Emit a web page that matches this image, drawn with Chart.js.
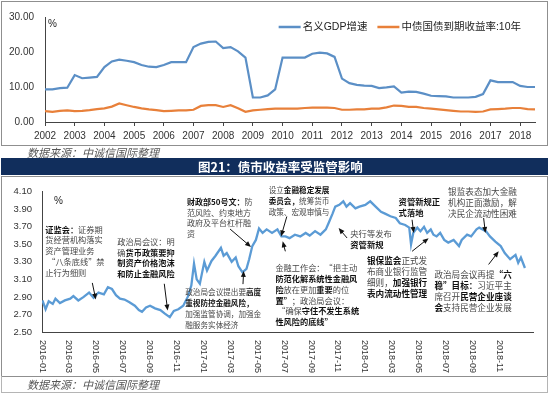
<!DOCTYPE html>
<html>
<head>
<meta charset="utf-8">
<script src="https://cdn.jsdelivr.net/npm/chart.js@4.4.0/dist/chart.umd.min.js"></script>
<style>
  body { margin: 0; width: 550px; height: 394px; position: relative; background: #fff; overflow: hidden;
         font-family: "Liberation Sans", "Noto Sans CJK SC", sans-serif; }
  .frame { position: absolute; box-sizing: border-box; border: 1px solid #8f8f8f; }
  #frame1 { left: 1px; top: 1px; width: 547px; height: 145px; }
  #frame2 { left: 1px; top: 176px; width: 547px; height: 201px; }
  #frame3 { left: 1px; top: 376px; width: 547px; height: 17px; border-top: none; border-color: #b5b5b5; }
  canvas { position: absolute; left: 0; }
  #c1 { top: 0; }
  #c2 { top: 176px; }
  .source { position: absolute; left: 27px; font-size: 11px; font-style: italic; color: #555;
            font-family: "Noto Sans CJK SC", sans-serif; line-height: 13px; }
  #src1 { top: 146px; }
  #src2 { top: 378px; }
  #title { position: absolute; left: 1px; top: 158px; width: 547px; height: 17px; background: #112e5c;
           color: #fff; font: bold 12.5px "Noto Sans CJK SC", sans-serif; line-height: 17px;
           text-align: center; box-sizing: border-box; padding-left: 12px; }
</style>
</head>
<body>
<div class="frame" id="frame1"></div>
<div class="frame" id="frame2"></div>
<div class="frame" id="frame3"></div>
<canvas id="c1" width="550" height="145"></canvas>
<div class="source" id="src1">数据来源：中诚信国际整理</div>
<div id="title">图21：债市收益率受监管影响</div>
<canvas id="c2" width="550" height="200"></canvas>
<div class="source" id="src2">数据来源：中诚信国际整理</div>
<script>
// ---- 上图：名义GDP增速 与 10年国债收益率（季度）----
const years = ['2002', '2003', '2004', '2005', '2006', '2007', '2008', '2009', '2010',
               '2011', '2012', '2013', '2014', '2015', '2016', '2017', '2018'];
const gdpGrowth = [
  9.3, 9.3, 9.7, 9.8,  13.4, 12.5, 12.7, 12.9,  15.7, 17.3, 17.8, 17.5,  17.1, 16.3, 15.8, 15.7,
  16.3, 17.1, 17.1, 17.1,  21.4, 22.4, 22.9, 23.0,  21.1, 21.4, 20.2, 18.4,  7.0, 7.0, 7.6, 9.3,
  18.4, 18.4, 18.4, 18.4,  19.5, 19.8, 19.6, 18.6,  12.4, 11.1, 10.6, 10.4,  10.3, 9.7, 9.9, 10.2,
  8.4, 8.7, 8.6, 8.1,  7.5, 7.4, 7.3, 7.0,  7.0, 7.0, 7.2, 8.0,  11.9, 11.4, 11.4, 11.4,
  10.3, 10.0, 10.0
];
const bondYield10y = [
  3.1, 2.9, 3.2, 3.3,  3.1, 3.2, 3.4, 3.7,  3.9, 4.4, 5.3, 4.8,  4.3, 3.9, 3.6, 3.4,
  3.1, 3.2, 3.3, 3.3,  3.5, 4.6, 4.8, 4.8,  4.3, 4.8, 3.9, 2.9,  3.3, 3.5, 3.7, 3.8,
  3.8, 3.8, 3.8, 4.0,  4.1, 4.1, 4.1, 4.0,  3.5, 3.5, 3.6, 3.6,  3.8, 3.8, 4.2, 4.7,
  4.6, 4.3, 4.3, 4.0,  3.8, 3.6, 3.4, 3.2,  3.0, 3.0, 2.9, 3.0,  3.6, 3.7, 3.8, 4.0,
  4.0, 3.7, 3.6
];
const yTicks1 = [0, 10, 20, 30];

// ---- 下图：10年国债收益率（%）----
const yieldDates = [
  '2016-01-02', '2016-01-09', '2016-01-16', '2016-01-25', '2016-02-01', '2016-02-11', '2016-02-22',
  '2016-03-04', '2016-03-11', '2016-03-22', '2016-04-04', '2016-04-16', '2016-04-26', '2016-05-07',
  '2016-05-19', '2016-05-28', '2016-06-07', '2016-06-16', '2016-06-25', '2016-07-05', '2016-07-16',
  '2016-07-28', '2016-08-07', '2016-08-14', '2016-08-23', '2016-09-02', '2016-09-13', '2016-09-25',
  '2016-10-05', '2016-10-16', '2016-10-25', '2016-11-05', '2016-11-16', '2016-11-26', '2016-12-04',
  '2016-12-10', '2016-12-16', '2016-12-23', '2017-01-03', '2017-01-09', '2017-01-19', '2017-01-28',
  '2017-02-10', '2017-02-16', '2017-02-23', '2017-03-04', '2017-03-13', '2017-03-19', '2017-03-28',
  '2017-04-07', '2017-04-13', '2017-04-20', '2017-04-28', '2017-05-05', '2017-05-13', '2017-05-22',
  '2017-06-04', '2017-06-16', '2017-06-25', '2017-07-04', '2017-07-13', '2017-07-25', '2017-08-07',
  '2017-08-19', '2017-08-28', '2017-09-10', '2017-09-22', '2017-10-04', '2017-10-10', '2017-10-19',
  '2017-10-25', '2017-11-04', '2017-11-13', '2017-11-20', '2017-11-28', '2017-12-10', '2017-12-19',
  '2018-01-02', '2018-01-13', '2018-01-25', '2018-02-07', '2018-02-16', '2018-02-28', '2018-03-10',
  '2018-03-19', '2018-04-01', '2018-04-10', '2018-04-14', '2018-04-19', '2018-04-28', '2018-05-05',
  '2018-05-13', '2018-05-20', '2018-05-28', '2018-06-04', '2018-06-11', '2018-06-19', '2018-06-28',
  '2018-07-07', '2018-07-19', '2018-08-01', '2018-08-07', '2018-08-19', '2018-08-28', '2018-09-10',
  '2018-09-16', '2018-10-01', '2018-10-10', '2018-10-22', '2018-11-04', '2018-11-13', '2018-11-25',
  '2018-12-07', '2018-12-13', '2018-12-19', '2018-12-28'
];
const yieldValues = [
  2.86, 2.76, 2.85, 2.82, 2.88, 2.83, 2.86,
  2.88, 2.91, 2.86, 2.90, 2.95, 2.89, 2.95,
  2.93, 3.01, 2.99, 2.92, 2.88, 2.87, 2.84,
  2.80, 2.75, 2.73, 2.78, 2.80, 2.77, 2.75,
  2.71, 2.67, 2.74, 2.76, 2.80, 2.90, 3.03,
  3.28, 3.10, 3.05, 3.30, 3.20, 3.31, 3.37,
  3.46, 3.37, 3.40, 3.30, 3.35, 3.25, 3.18,
  3.22, 3.33, 3.48, 3.55, 3.68, 3.63, 3.67,
  3.63, 3.67, 3.59, 3.59, 3.57, 3.61, 3.59,
  3.63, 3.60, 3.65, 3.61, 3.67, 3.74, 3.85,
  3.93, 3.95, 3.99, 3.93, 3.97, 3.91, 3.93,
  3.95, 3.99, 3.93, 3.87, 3.85, 3.82, 3.80,
  3.74, 3.72, 3.69, 3.50, 3.63, 3.69, 3.65,
  3.70, 3.63, 3.67, 3.61, 3.59, 3.63, 3.55,
  3.52, 3.55, 3.48, 3.55, 3.61, 3.59, 3.67,
  3.69, 3.65, 3.59, 3.53, 3.48, 3.40, 3.33,
  3.38, 3.29, 3.35, 3.23
];
const tickLabels2 = ['2016-01', '2016-03', '2016-05', '2016-07', '2016-09', '2016-11',
                     '2017-01', '2017-03', '2017-05', '2017-07', '2017-09', '2017-11',
                     '2018-01', '2018-03', '2018-05', '2018-07', '2018-09', '2018-11'];
const yTicks2 = [2.5, 2.7, 2.9, 3.1, 3.3, 3.5, 3.7, 3.9, 4.1];

// 注释：m = 距2016-01的月数，v = 收益率；*包住的是粗体
const notes = [
  { m: 0.25, v: 3.67, size: 8.2, lines: ['*证监会：*证券期', '货经营机构落实', '资产管理业务', ' “八条底线”禁', '止行为细则'] },
  { m: 5.6, v: 3.53, size: 8.2, lines: ['政治局会议：明', '确*货币政策要抑*', '*制资产价格泡沫*', '*和防止金融风险*'] },
  { m: 10.78, v: 3.986, size: 8.0, lines: ['*财政部50号文：*防', '范风险、约束地方', '政府及平台杠杆融', '资'] },
  { m: 10.65, v: 2.95, size: 7.6, lines: ['政治局会议提出要*高度*', '*重视防控金融风险，*', '加强监管协调，加强金', '融服务实体经济'] },
  { m: 16.85, v: 4.118, size: 7.6, lines: ['设立*金融稳定发展*', '*委员会，*统筹货币', '政策、宏观审慎与'] },
  { m: 17.35, v: 3.23, size: 8.2, lines: ['金融工作会：“把主动', '*防范化解系统性金融风*', '*险*放在更加*重要*的位', '*置”*；政治局会议：', ' “确保*守住不发生系统*', '*性风险的底线”*'] },
  { m: 22.92, v: 3.617, size: 8.3, lines: ['央行等发布', '*资管新规*'] },
  { m: 26.51, v: 3.986, size: 8.3, lines: ['*资管新规正*', '*式落地*'] },
  { m: 24.16, v: 3.31, size: 8.6, lines: ['*银保监会*正式发', '布商业银行监管', '细则，*加强银行*', '*表内流动性管理*'] },
  { m: 30.19, v: 4.10, size: 8.6, lines: ['银监表态加大金融', '机构正面激励，解', '决民企流动性困难'] },
  { m: 29.17, v: 3.148, size: 8.6, lines: ['政治局会议再提*“六*', '*稳”目标：*习近平主', '席召开*民营企业座谈*', '*会*支持民营企业发展'] }
];
// 箭头：[起点m, 起点v, 终点m, 终点v]
const arrows = [
  [3.74, 3.06, 4.0, 2.87],
  [9.09, 3.05, 9.34, 2.745],
  [13.98, 3.674, 15.54, 3.47],
  [14.94, 3.046, 14.99, 3.196],
  [18.2, 3.817, 17.77, 3.59],
  [18.09, 3.42, 17.89, 3.535],
  [22.68, 3.572, 22.05, 3.685],
  [27.51, 3.78, 27.63, 3.63],
  [27.51, 3.42, 28.74, 3.57],
  [32.83, 3.80, 32.96, 3.63],
  [33.2, 3.27, 33.95, 3.42]
];

// 季度 -> 年份小数
const quarterPos = (i) => parseInt(years[Math.floor(i / 4)]) + (i % 4) * 0.25;
// 日期 -> 距2016-01的月数
const monthPos = (d) => {
  const p = d.split('-').map(Number);
  return (p[0] - 2016) * 12 + (p[1] - 1) + ((p[2] || 1) - 1) / 30;
};

const AXIS = '#444';
const LATIN = '"Liberation Sans", "Noto Sans CJK SC", sans-serif';

// 上图的图例和单位
const legendPlugin = {
  id: 'legend1',
  afterDraw(chart) {
    const ctx = chart.ctx;
    const area = chart.chartArea;
    ctx.save();
    ctx.fillStyle = '#222';
    ctx.font = '10px ' + LATIN;
    ctx.textBaseline = 'middle';
    ctx.fillText('%', area.left + 3, area.top + 7);

    ctx.font = '10.5px ' + LATIN;
    let x = area.right - 14;
    const y = area.top + 10;
    chart.data.datasets.slice().reverse().forEach(ds => {
      const w = ctx.measureText(ds.label).width;
      x -= w;
      ctx.fillStyle = '#222';
      ctx.fillText(ds.label, x, y);
      ctx.strokeStyle = ds.borderColor;
      ctx.lineWidth = 2.5;
      ctx.beginPath();
      ctx.moveTo(x - 24, y);
      ctx.lineTo(x - 2, y);
      ctx.stroke();
      x -= 24 + 10;
    });
    ctx.restore();
  }
};

new Chart(document.getElementById('c1'), {
  type: 'line',
  data: {
    datasets: [
      { label: '名义GDP增速', data: gdpGrowth.map((v, i) => ({ x: quarterPos(i), y: v })),
        borderColor: '#5b8fc6', borderWidth: 2.2, pointRadius: 0 },
      { label: '中债国债到期收益率:10年', data: bondYield10y.map((v, i) => ({ x: quarterPos(i), y: v })),
        borderColor: '#e8803a', borderWidth: 2.2, pointRadius: 0 }
    ]
  },
  options: {
    responsive: false,
    animation: false,
    layout: { padding: { top: 17, right: 15, left: 0, bottom: 0 } },
    plugins: { legend: { display: false }, tooltip: { enabled: false } },
    scales: {
      x: {
        type: 'linear', min: 2002, max: 2018.5,
        afterBuildTicks: s => { s.ticks = years.map(y => ({ value: parseInt(y) })); },
        grid: { drawOnChartArea: false, drawTicks: true, tickLength: 4, color: AXIS },
        border: { color: AXIS },
        ticks: { maxRotation: 0, autoSkip: false, padding: 4, color: '#333', font: { size: 10, family: LATIN },
                 callback: v => String(v) },
        afterFit: s => { s.height = 23; }
      },
      y: {
        min: 0, max: 30,
        afterBuildTicks: s => { s.ticks = yTicks1.map(v => ({ value: v })); },
        grid: { display: false, drawTicks: false },
        border: { color: AXIS },
        ticks: { padding: 11, color: '#333', font: { size: 10, family: LATIN }, callback: v => v.toFixed(2) },
        afterFit: s => { s.width = 45; }
      }
    }
  },
  plugins: [legendPlugin]
});

// 下图的横轴标签（顺时针竖排）、单位、注释和箭头
const notesPlugin = {
  id: 'notes2',
  afterDraw(chart) {
    const ctx = chart.ctx;
    const xs = chart.scales.x;
    const ys = chart.scales.y;
    const area = chart.chartArea;
    ctx.save();

    ctx.fillStyle = '#333';
    ctx.font = '9px ' + LATIN;
    ctx.textBaseline = 'middle';
    ctx.textAlign = 'left';
    tickLabels2.forEach(lab => {
      ctx.save();
      ctx.translate(xs.getPixelForValue(monthPos(lab)), area.bottom + 8);
      ctx.rotate(Math.PI / 2);
      ctx.fillText(lab, 0, 0);
      ctx.restore();
    });

    ctx.fillStyle = '#222';
    ctx.font = '10px ' + LATIN;
    ctx.fillText('%', area.left + 12, area.top + 10);

    notes.forEach(n => {
      const x0 = xs.getPixelForValue(n.m);
      let y = ys.getPixelForValue(n.v);
      n.lines.forEach(line => {
        let x = x0;
        line.split('*').forEach((part, k) => {
          if (!part) return;
          const bold = k % 2 === 1;
          ctx.font = (bold ? 'bold ' : '') + n.size + 'px "Noto Sans CJK SC", sans-serif';
          ctx.fillStyle = bold ? '#111' : '#474747';
          ctx.fillText(part, x, y);
          x += ctx.measureText(part).width;
        });
        y += 10.8;
      });
    });

    ctx.strokeStyle = '#111';
    ctx.fillStyle = '#111';
    ctx.lineWidth = 1;
    arrows.forEach(a => {
      const x1 = xs.getPixelForValue(a[0]), y1 = ys.getPixelForValue(a[1]);
      const x2 = xs.getPixelForValue(a[2]), y2 = ys.getPixelForValue(a[3]);
      const ang = Math.atan2(y2 - y1, x2 - x1);
      ctx.beginPath();
      ctx.moveTo(x1, y1);
      ctx.lineTo(x2 - 4 * Math.cos(ang), y2 - 4 * Math.sin(ang));
      ctx.stroke();
      ctx.beginPath();
      ctx.moveTo(x2, y2);
      ctx.lineTo(x2 - 6 * Math.cos(ang) + 2.5 * Math.sin(ang), y2 - 6 * Math.sin(ang) - 2.5 * Math.cos(ang));
      ctx.lineTo(x2 - 6 * Math.cos(ang) - 2.5 * Math.sin(ang), y2 - 6 * Math.sin(ang) + 2.5 * Math.cos(ang));
      ctx.closePath();
      ctx.fill();
    });
    ctx.restore();
  }
};

new Chart(document.getElementById('c2'), {
  type: 'line',
  data: {
    datasets: [{
      label: '10年国债收益率',
      data: yieldDates.map((d, i) => ({ x: monthPos(d), y: yieldValues[i] })),
      borderColor: '#5b9bd5', borderWidth: 2.3, pointRadius: 0
    }]
  },
  options: {
    responsive: false,
    animation: false,
    layout: { padding: { top: 14, right: 17, left: 0, bottom: 0 } },
    plugins: { legend: { display: false }, tooltip: { enabled: false } },
    scales: {
      x: {
        type: 'linear', min: 0, max: 36.5,
        grid: { display: false, drawTicks: false },
        border: { color: AXIS },
        ticks: { display: false },
        afterFit: s => { s.height = 44; }
      },
      y: {
        min: 2.5, max: 4.1,
        afterBuildTicks: s => { s.ticks = yTicks2.map(v => ({ value: v })); },
        grid: { display: false, drawTicks: false },
        border: { color: AXIS },
        ticks: { padding: 10, color: '#333', font: { size: 9.5, family: LATIN }, callback: v => v.toFixed(2) },
        afterFit: s => { s.width = 42; }
      }
    }
  },
  plugins: [notesPlugin]
});
</script>
</body>
</html>
